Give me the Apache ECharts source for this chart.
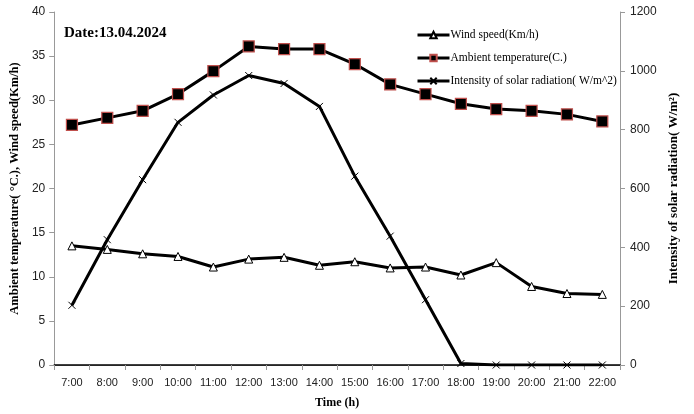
<!DOCTYPE html>
<html>
<head>
<meta charset="utf-8">
<script src="https://cdn.jsdelivr.net/npm/echarts@6/dist/echarts.min.js"></script>
<style>
  html, body { margin: 0; padding: 0; background: #fff; }
  #chart { width: 694px; height: 414px; }
</style>
</head>
<body>
<div id="chart"></div>
<script>
// time of day
var hours = ['7:00', '8:00', '9:00', '10:00', '11:00', '12:00', '13:00', '14:00',
  '15:00', '16:00', '17:00', '18:00', '19:00', '20:00', '21:00', '22:00'];
// wind speed (Km/h) - left axis
var windSpeed = [13.5, 13.1, 12.6, 12.3, 11.1, 12.0, 12.2, 11.3, 11.7, 11.0, 11.1, 10.2, 11.6, 8.9, 8.1, 8.0];
// ambient temperature (C) - left axis
var ambientTemp = [27.2, 28.0, 28.8, 30.7, 33.3, 36.1, 35.8, 35.8, 34.1, 31.8, 30.7, 29.6, 29.0, 28.8, 28.4, 27.6];
// solar radiation (W/m^2) - right axis
var solarRad = [203, 426, 630, 825, 918, 984, 957, 879, 642, 438, 222, 5, 0, 0, 0, 0];

var serif = 'Liberation Serif';
var sans = 'Liberation Sans';
var cross = 'path://M0,0L10,10M10,0L0,10';

var myChart = echarts.init(document.getElementById('chart'));

var option = {
  backgroundColor: '#fff',
  animation: false,
  title: {
    text: 'Date:13.04.2024',
    left: 59,
    top: 21,
    textStyle: { fontFamily: serif, fontWeight: 'bold', fontSize: 15, color: '#000' }
  },
  legend: {
    orient: 'vertical',
    left: 411,
    top: 24,
    itemWidth: 32,
    itemHeight: 8,
    itemGap: 11,
    lineStyle: { width: 3 },
    textStyle: { fontFamily: serif, fontSize: 11.5, color: '#000', padding: [0, 0, 0, -4] },
    data: ['Wind speed(Km/h)', 'Ambient temperature(C.)', 'Intensity of solar radiation( W/m^2)']
  },
  grid: { left: 54, right: 74, top: 12, bottom: 47 },
  xAxis: [{
    type: 'category',
    data: hours,
    boundaryGap: true,
    name: 'Time (h)',
    nameLocation: 'middle',
    nameGap: 32,
    nameTextStyle: { fontFamily: serif, fontWeight: 'bold', fontSize: 12, color: '#000' },
    axisLine: { lineStyle: { color: '#999', width: 1 } },
    axisTick: { show: true, alignWithLabel: false, length: 5, lineStyle: { color: '#999' } },
    axisLabel: { fontFamily: sans, fontSize: 11, color: '#222', margin: 12, interval: 0 },
    splitLine: { show: false }
  }, {
    type: 'category',
    position: 'top',
    data: hours,
    axisLine: { lineStyle: { color: '#000', width: 1.5 } },
    axisTick: { show: false },
    axisLabel: { show: false }
  }],
  yAxis: [{
    type: 'value',
    min: 0,
    max: 40,
    interval: 5,
    position: 'left',
    name: 'Ambient temperature( °C.), Wind speed(Km/h)',
    nameLocation: 'middle',
    nameRotate: 90,
    nameGap: 33,
    nameTextStyle: { fontFamily: serif, fontWeight: 'bold', fontSize: 12.5, color: '#000' },
    axisLine: { show: true, lineStyle: { color: '#999' } },
    axisTick: { show: true, length: 5, lineStyle: { color: '#999' } },
    axisLabel: { fontFamily: sans, fontSize: 12, color: '#222', margin: 9 },
    splitLine: { show: false }
  }, {
    type: 'value',
    min: 0,
    max: 1200,
    interval: 200,
    position: 'right',
    name: 'Intensity of solar radiation( W/m²)',
    nameLocation: 'middle',
    nameRotate: 90,
    nameGap: 46,
    nameTextStyle: { fontFamily: serif, fontWeight: 'bold', fontSize: 13, color: '#000' },
    axisLine: { show: true, lineStyle: { color: '#999' } },
    axisTick: { show: true, length: 5, lineStyle: { color: '#999' } },
    axisLabel: { fontFamily: sans, fontSize: 12, color: '#222', margin: 10, formatter: function (v) { return String(v); } },
    splitLine: { show: false }
  }],
  series: [{
    name: 'Wind speed(Km/h)',
    type: 'line',
    yAxisIndex: 0,
    data: windSpeed,
    symbol: 'triangle',
    symbolSize: 8,
    showAllSymbol: true,
    lineStyle: { color: '#000', width: 3 },
    itemStyle: { color: '#fff', borderColor: '#000', borderWidth: 1 },
    z: 3
  }, {
    name: 'Ambient temperature(C.)',
    type: 'line',
    yAxisIndex: 0,
    data: ambientTemp,
    symbol: 'rect',
    symbolSize: 11,
    showAllSymbol: true,
    lineStyle: { color: '#000', width: 3 },
    itemStyle: { color: '#000', borderColor: '#c0504d', borderWidth: 1.2 },
    z: 4
  }, {
    name: 'Intensity of solar radiation( W/m^2)',
    type: 'line',
    yAxisIndex: 1,
    data: solarRad,
    symbol: cross,
    symbolSize: 7,
    showAllSymbol: true,
    lineStyle: { color: '#000', width: 3 },
    itemStyle: { color: 'none', borderColor: '#000', borderWidth: 1 },
    z: 2
  }]
};

myChart.setOption(option);
</script>
</body>
</html>
